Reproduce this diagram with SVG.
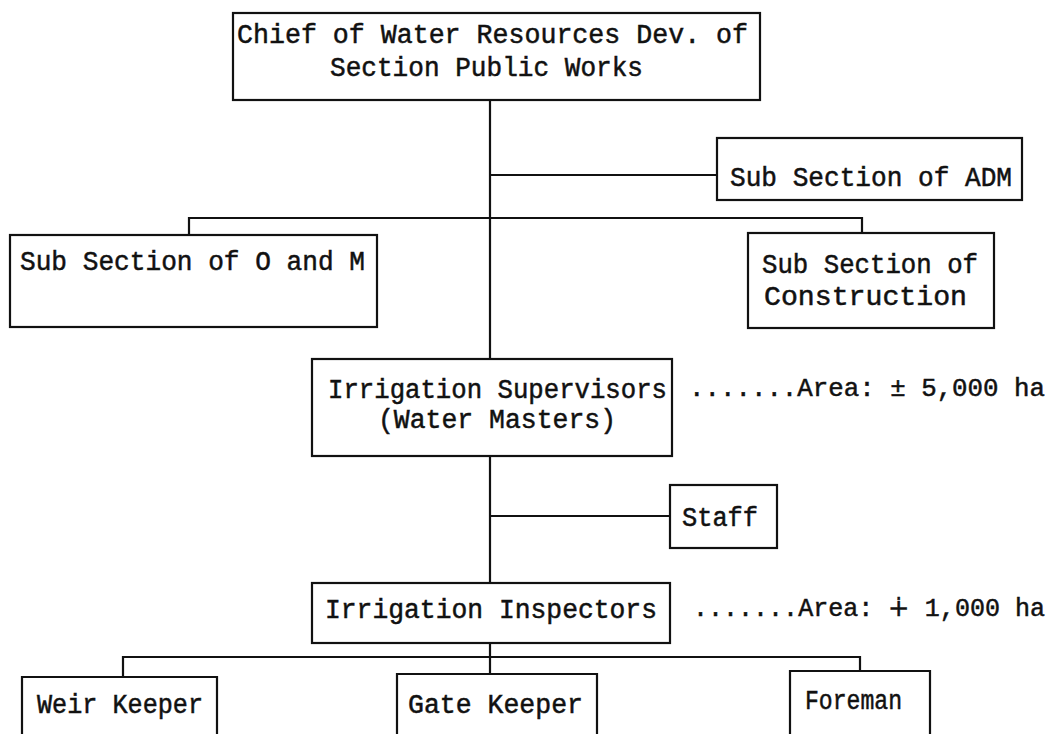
<svg xmlns="http://www.w3.org/2000/svg" width="1059" height="734" viewBox="0 0 1059 734">
<style>
.box{fill:none;stroke:#111;stroke-width:2.2}
.ln{fill:none;stroke:#111;stroke-width:2.2}
text{font-family:"Liberation Mono","DejaVu Sans Mono",monospace;font-size:27px;fill:#111;stroke:#111;stroke-width:0.5}
text.area{font-size:25.5px}
</style>
<rect width="1059" height="734" fill="#fff"/>
<g id="connectors">
<path class="ln" d="M490 100V359M490 456V583M490 643V675"/>
<path class="ln" d="M490 175H717"/>
<path class="ln" d="M189 235V218H862V233"/>
<path class="ln" d="M490 516H670"/>
<path class="ln" d="M123 677V657H860V671"/>
</g>
<g id="chief">
<rect class="box" x="233" y="13" width="527" height="87"/>
<text x="237" y="43" textLength="511" lengthAdjust="spacingAndGlyphs">Chief of Water Resources Dev. of</text>
<text x="330" y="76" textLength="313" lengthAdjust="spacingAndGlyphs">Section Public Works</text>
</g>
<g id="adm">
<rect class="box" x="717" y="138" width="305" height="62"/>
<text x="730" y="186" textLength="282" lengthAdjust="spacingAndGlyphs">Sub Section of ADM</text>
</g>
<g id="om">
<rect class="box" x="10" y="235" width="367" height="92"/>
<text x="20" y="270" textLength="345" lengthAdjust="spacingAndGlyphs">Sub Section of O and M</text>
</g>
<g id="construction">
<rect class="box" x="748" y="233" width="246" height="95"/>
<text x="762" y="273" textLength="216" lengthAdjust="spacingAndGlyphs">Sub Section of</text>
<text x="764" y="305" textLength="203" lengthAdjust="spacingAndGlyphs">Construction</text>
</g>
<g id="supervisors">
<rect class="box" x="312" y="359" width="360" height="97"/>
<text x="328" y="398" textLength="339" lengthAdjust="spacingAndGlyphs">Irrigation Supervisors</text>
<text x="378" y="428" textLength="238" lengthAdjust="spacingAndGlyphs">(Water Masters)</text>
</g>
<g id="area5000">
<text class="area" x="689" y="396" textLength="356" lengthAdjust="spacingAndGlyphs">.......Area: ± 5,000 ha</text>
</g>
<g id="staff">
<rect class="box" x="670" y="485" width="107" height="63"/>
<text x="682" y="526" textLength="76" lengthAdjust="spacingAndGlyphs">Staff</text>
</g>
<g id="inspectors">
<rect class="box" x="312" y="583" width="358" height="60"/>
<text x="325" y="618" textLength="332" lengthAdjust="spacingAndGlyphs">Irrigation Inspectors</text>
</g>
<g id="area1000">
<text class="area" x="693" y="616" textLength="352" lengthAdjust="spacingAndGlyphs">.......Area: ∔ 1,000 ha</text>
</g>
<g id="weir">
<path class="box" d="M22 740V677H217V740"/>
<text x="37" y="713" textLength="166" lengthAdjust="spacingAndGlyphs">Weir Keeper</text>
</g>
<g id="gate">
<path class="box" d="M397 740V674H597V740"/>
<text x="408" y="713" textLength="175" lengthAdjust="spacingAndGlyphs">Gate Keeper</text>
</g>
<g id="foreman">
<path class="box" d="M790 740V671H930V740"/>
<text x="805" y="709" textLength="97" lengthAdjust="spacingAndGlyphs">Foreman</text>
</g>
</svg>
